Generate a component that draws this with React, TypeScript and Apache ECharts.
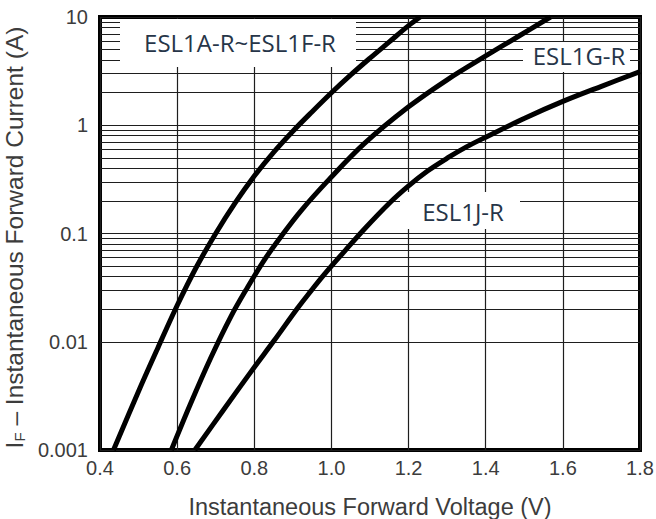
import React, { useEffect, useRef } from "react";
import * as echarts from "echarts";

// Series: instantaneous forward voltage (V) vs forward current (A)
const curveAFVolts = [0.435, 0.5, 0.55, 0.6, 0.65, 0.7, 0.75, 0.8, 0.85, 0.9, 0.95, 1.0, 1.05, 1.1, 1.15, 1.2, 1.23];
const curveAFAmps = [0.001, 0.00349, 0.00877, 0.0216, 0.049, 0.1, 0.1905, 0.339, 0.562, 0.881, 1.334, 1.995, 2.917, 4.169, 5.888, 8.318, 10];

const curveGVolts = [0.585, 0.635, 0.687, 0.739, 0.782, 0.825, 0.869, 0.921, 0.994, 1.085, 1.2, 1.3, 1.4, 1.484, 1.568];
const curveGAmps = [0.001, 0.00269, 0.00708, 0.017, 0.0316, 0.0562, 0.0933, 0.162, 0.316, 0.676, 1.479, 2.63, 4.365, 6.607, 10];

const curveJVolts = [0.646, 0.72, 0.795, 0.851, 0.912, 0.947, 0.981, 1.035, 1.085, 1.15, 1.2, 1.25, 1.302, 1.35, 1.4, 1.501, 1.6, 1.7, 1.8];
const curveJAmps = [0.001, 0.00234, 0.0055, 0.0102, 0.0204, 0.0295, 0.0417, 0.0692, 0.1096, 0.1905, 0.2754, 0.38, 0.501, 0.631, 0.776, 1.161, 1.66, 2.29, 3.126];

const seriesNames = ["ESL1A-R~ESL1F-R", "ESL1G-R", "ESL1J-R"];

// Axis ticks
const xMin = 0.4;
const xMax = 1.8;
const xInterval = 0.2;
const yMin = 0.001;
const yMax = 10;
const decades = [0.001, 0.01, 0.1, 1];
const minorMultipliers = [2, 3, 4, 5, 6, 7, 8, 9];

const zip = (xs: number[], ys: number[]) => xs.map((x, i) => [x, ys[i]]);

export default function App() {
  const ref = useRef<HTMLDivElement>(null);

  useEffect(() => {
    if (!ref.current) return;
    const chart = echarts.init(ref.current, null, { renderer: "svg" });

    const minorLines: { yAxis: number }[] = [];
    decades.forEach((d) =>
      minorMultipliers.forEach((m) => minorLines.push({ yAxis: Number((d * m).toPrecision(3)) }))
    );

    const gridLineColor = "#1e1e1e";
    const labelColor = "#3c3c3c";
    const axisFont = "'Liberation Sans', Arial, sans-serif";
    const curveStyle = { color: "#000", width: 5 };
    const tagText = {
      fill: "#263548",
      font: "24px 'Open Sans', sans-serif",
      align: "center",
      verticalAlign: "middle",
    };

    const datasets = [
      zip(curveAFVolts, curveAFAmps),
      zip(curveGVolts, curveGAmps),
      zip(curveJVolts, curveJAmps),
    ];

    chart.setOption({
      animation: false,
      backgroundColor: "#fff",
      grid: {
        left: 100,
        right: 16,
        top: 17,
        bottom: 69,
        containLabel: false,
        outerBoundsMode: "none",
        show: true,
        borderColor: "#000",
        borderWidth: 4,
        backgroundColor: "transparent",
      },
      xAxis: {
        type: "value",
        min: xMin,
        max: xMax,
        interval: xInterval,
        name: "Instantaneous Forward Voltage (V)",
        nameLocation: "middle",
        nameGap: 45,
        nameTextStyle: { fontSize: 23.5, color: labelColor, fontFamily: axisFont },
        axisLine: { show: false },
        axisTick: { show: false },
        axisLabel: {
          fontSize: 20,
          color: labelColor,
          fontFamily: axisFont,
          margin: 8,
          formatter: (v: number) => v.toFixed(1),
        },
        splitLine: { show: true, lineStyle: { color: gridLineColor, width: 1.2 } },
      },
      yAxis: {
        type: "log",
        logBase: 10,
        min: yMin,
        max: yMax,
        name: "{i|I}{s|F}{t| – Instantaneous Forward Current (A)}",
        nameLocation: "middle",
        nameGap: 66,
        nameTextStyle: {
          color: labelColor,
          fontFamily: axisFont,
          fontSize: 24.5,
          padding: [0, 8, 0, 0],
          rich: {
            i: { fontSize: 24.5, color: labelColor, fontFamily: axisFont },
            s: { fontSize: 15, color: labelColor, fontFamily: axisFont, verticalAlign: "bottom" },
            t: { fontSize: 24.5, color: labelColor, fontFamily: axisFont },
          },
        },
        axisLine: { show: false },
        axisTick: { show: false },
        axisLabel: {
          fontSize: 20,
          color: labelColor,
          fontFamily: axisFont,
          margin: 12,
          formatter: (v: number) => String(Number(v.toPrecision(3))),
        },
        splitLine: { show: true, lineStyle: { color: gridLineColor, width: 1.2 } },
      },
      series: [
        {
          type: "line",
          name: "minor-grid",
          data: [[xMin, yMin]],
          showSymbol: false,
          symbol: "none",
          lineStyle: { width: 0, opacity: 0 },
          silent: true,
          z: 1,
          markLine: {
            z: 1,
            silent: true,
            symbol: ["none", "none"],
            label: { show: false },
            emphasis: { disabled: true },
            lineStyle: { type: "solid", color: gridLineColor, width: 1.2 },
            data: minorLines,
          },
        },
        ...datasets.map((d, i) => ({
          type: "line",
          name: seriesNames[i],
          data: d,
          smooth: 0.35,
          showSymbol: false,
          symbol: "none",
          lineStyle: curveStyle,
          silent: true,
          z: 5,
        })),
      ],
      graphic: [
        { type: "rect", z: 3, shape: { x: 120, y: 19, width: 236, height: 48 }, style: { fill: "#fff" } },
        { type: "rect", z: 3, shape: { x: 523, y: 42, width: 107, height: 30 }, style: { fill: "#fff" } },
        { type: "rect", z: 3, shape: { x: 400, y: 192, width: 120, height: 37 }, style: { fill: "#fff" } },
        { type: "text", x: 240, y: 42, z: 4, style: { ...tagText, text: seriesNames[0] } },
        { type: "text", x: 579, y: 55, z: 4, style: { ...tagText, text: seriesNames[1] } },
        { type: "text", x: 463, y: 211, z: 4, style: { ...tagText, text: seriesNames[2] } },
      ],
    });

    return () => chart.dispose();
  }, []);

  return (
    <div
      ref={ref}
      style={{ position: "absolute", left: 0, top: 0, width: 656, height: 519 }}
    />
  );
}
